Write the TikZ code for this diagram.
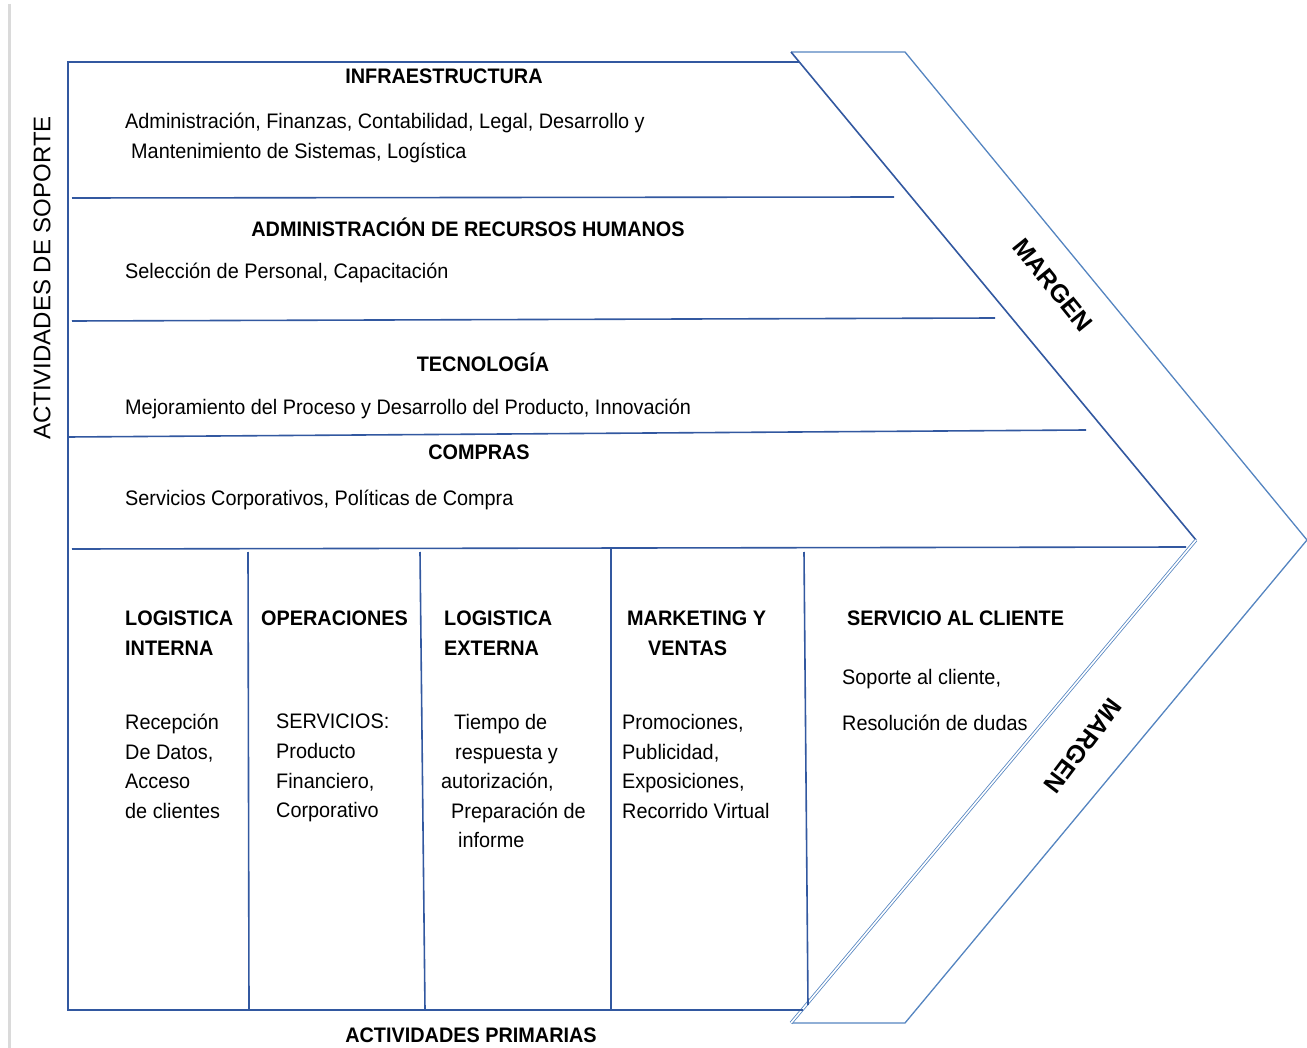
\documentclass[tikz,border=0pt]{standalone}
\usepackage{fontspec}
\setmainfont{Liberation Sans}
\newfontfamily\narrow[FakeStretch=0.945]{Liberation Sans}
\usetikzlibrary{positioning}
\definecolor{framecol}{RGB}{50,88,160}
\definecolor{chevcol}{RGB}{84,132,192}
\definecolor{edgegray}{RGB}{218,218,218}

\begin{document}
\begin{tikzpicture}[x=1pt,y=-1pt,inner sep=0pt]
  \tikzstyle{frame}=[draw=framecol, line width=1.6pt]
  \tikzstyle{chev}=[draw=chevcol, line width=1.3pt, line join=miter]
  \tikzstyle{sect}=[font=\narrow\bfseries\fontsize{21}{30}\selectfont, align=left]
  \tikzstyle{body}=[font=\narrow\fontsize{21}{29.6}\selectfont, align=left]
  \tikzstyle{margen}=[font=\bfseries\fontsize{25}{30}\selectfont]

  \useasboundingbox (0,0) rectangle (1307,1048);
  \draw[edgegray, line width=3pt] (9,4) -- (9,1048);

  % chevron
  \coordinate (ctl) at (791,52);
  \coordinate (ctr) at (905,52);
  \coordinate (tip) at (1307,540);
  \coordinate (cin) at (1196,540);
  \coordinate (cbl) at (791,1023);
  \coordinate (cbr) at (905,1023);
  \draw[chev] (ctl) -- (ctr) -- (tip) -- (cbr) -- (cbl);
  \draw[frame] (ctl) -- (cin);
  \draw[chev, line width=0.8pt, double=white, double distance=1.6pt] (cin) -- (cbl);

  % frame and lines
  \draw[frame] (799,62) -- (68,62) -- (68,1010) -- (803,1010);
  \draw[frame] (72,198) -- (894,197);
  \draw[frame] (72,321) -- (995,318);
  \draw[frame] (68,437) -- (1086,430);
  \draw[frame] (72,549) -- (1186,547);
  \draw[frame] (248,552) -- (249,1010);
  \draw[frame] (420,552) -- (425,1010);
  \draw[frame] (611,549) -- (611,1010);
  \draw[frame] (804,552) -- (808,1005);

  % support activities
  \node[sect] (infra) at (444,76) {INFRAESTRUCTURA};
  \node[body, anchor=north west] (infratxt) at (125,113)
    {Administración, Finanzas, Contabilidad, Legal, Desarrollo y\\
     \hspace*{6pt}Mantenimiento de Sistemas, Logística};
  \node[sect] (rrhh) at (468,227) {ADMINISTRACIÓN DE RECURSOS HUMANOS};
  \node[body, anchor=west] (rrhhtxt) at (125,273) {Selección de Personal, Capacitación};
  \node[sect] (tec) at (483,362) {TECNOLOGÍA};
  \node[body, anchor=west] (tectxt) at (125,409)
    {Mejoramiento del Proceso y Desarrollo del Producto, Innovación};
  \node[sect] (compras) at (479,452) {COMPRAS};
  \node[body, anchor=west] (comprastxt) at (125,500)
    {Servicios Corporativos, Políticas de Compra};

  % primary activities
  \node[sect, anchor=north west] (logint) at (125,611) {LOGISTICA\\INTERNA};
  \node[sect, anchor=north west] (oper) at (261,611) {OPERACIONES};
  \node[sect, anchor=north west] (logext) at (444,611) {LOGISTICA\\EXTERNA};
  \node[sect, anchor=north west] (mkt) at (627,611) {MARKETING Y\\\hspace*{21pt}VENTAS};
  \node[sect, anchor=north west] (serv) at (847,611) {SERVICIO AL CLIENTE};

  \node[body, anchor=north west] (loginttxt) at (125,714)
    {Recepción\\De Datos,\\Acceso\\de clientes};
  \node[body, anchor=north west] (opertxt) at (276,714)
    {SERVICIOS:\\Producto\\Financiero,\\Corporativo};
  \node[body, anchor=north west] (logexttxt) at (441,714)
    {\hspace*{13pt}Tiempo de\\\hspace*{14pt}respuesta y\\autorización,\\
     \hspace*{10pt}Preparación de\\\hspace*{17pt}informe};
  \node[body, anchor=north west] (mkttxt) at (622,714)
    {Promociones,\\Publicidad,\\Exposiciones,\\Recorrido Virtual};
  \node[body, anchor=west] (servtxta) at (842,679) {Soporte al cliente,};
  \node[body, anchor=west] (servtxtb) at (842,723) {Resolución de dudas};

  % side labels
  \node[font=\fontsize{24}{28}\selectfont, rotate=90] (soporte) at (42,278) {ACTIVIDADES DE SOPORTE};
  \node[sect] (primarias) at (471,1035) {ACTIVIDADES PRIMARIAS};
  \node[margen, rotate=-51] (margena) at (1053,285) {MARGEN};
  \node[margen, rotate=-127] (margenb) at (1083,746) {MARGEN};
\end{tikzpicture}
\end{document}
